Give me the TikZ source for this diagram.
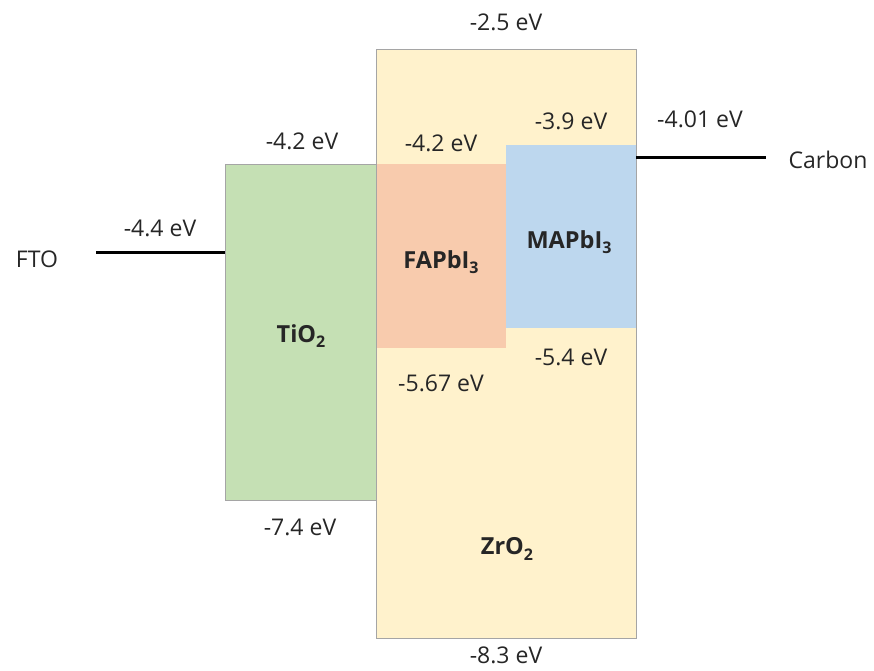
\documentclass[tikz,border=0pt]{standalone}
\usepackage{fontspec}
\setmainfont{Open Sans}
\definecolor{zrfill}{HTML}{FFF2CC}
\definecolor{tifill}{HTML}{C5E0B4}
\definecolor{fafill}{HTML}{F8CBAD}
\definecolor{mafill}{HTML}{BDD7EE}
\definecolor{edgegray}{HTML}{A5A5A5}
\newcommand{\sbs}[1]{\raisebox{-0.4ex}{\fontsize{16}{16}\selectfont #1}}
\begin{document}
\begin{tikzpicture}[x=1pt,y=1pt,
  lbl/.style={font=\fontsize{23}{26}\selectfont, text=black!85, inner sep=0pt},
  mat/.style={font=\fontsize{23.5}{26}\selectfont\bfseries, text=black!85, inner sep=0pt},
  level/.style={line width=3pt, black}]
\useasboundingbox (0,0) rectangle (874,-670);
% ZrO2
\fill[zrfill] (376,-49) rectangle (636,-638);
% TiO2
\fill[tifill] (225,-164) rectangle (376,-500);
\draw[edgegray, line width=0.8pt] (376,-164) -- (225,-164) -- (225,-500) -- (376,-500);
% FAPbI3
\fill[fafill] (376,-164) rectangle (506,-348);
% MAPbI3
\fill[mafill] (506,-145) rectangle (636,-328);
% ZrO2 border
\draw[edgegray, line width=0.8pt] (376,-49) rectangle (636,-638);
% contacts
\coordinate (ftoL) at (96,-252);
\coordinate (ftoR) at (225,-252);
\coordinate (cL) at (636,-157);
\coordinate (cR) at (766,-157);
\draw[level] (ftoL) -- (ftoR);
\draw[level] (cL) -- (cR);
% labels
\node[lbl] (l1) at (506,-22) {-2.5 eV};
\node[lbl] (l2) at (302,-141) {-4.2 eV};
\node[lbl] (l3) at (441,-143) {-4.2 eV};
\node[lbl] (l4) at (571,-121) {-3.9 eV};
\node[lbl] (l5) at (700,-119) {-4.01 eV};
\node[lbl] (l6) at (828,-160) {Carbon};
\node[lbl] (l7) at (160,-228) {-4.4 eV};
\node[lbl] (l8) at (37,-259) {FTO};
\node[mat] (fa) at (441,-262) {FAPbI\sbs{3}};
\node[mat] (ma) at (569,-242) {MAPbI\sbs{3}};
\node[mat] (ti) at (301,-336) {TiO\sbs{2}};
\node[lbl] (l9) at (441,-383) {-5.67 eV};
\node[lbl] (l10) at (571,-357) {-5.4 eV};
\node[lbl] (l11) at (300,-527) {-7.4 eV};
\node[mat] (zrl) at (507,-549) {ZrO\sbs{2}};
\node[lbl] (l12) at (506,-655) {-8.3 eV};
\end{tikzpicture}
\end{document}
